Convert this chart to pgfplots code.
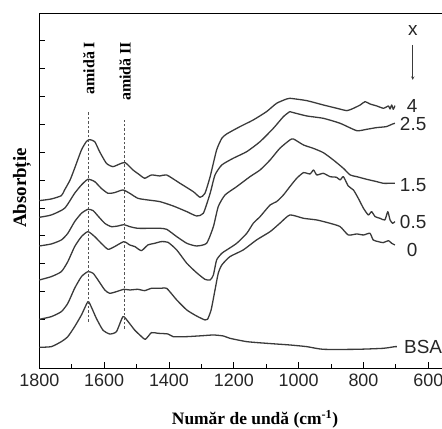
\documentclass[border=0pt]{standalone}
\usepackage{pgfplots}
\pgfplotsset{compat=1.18}
\usepackage{fontspec}
\setmainfont{Liberation Serif}
\newfontfamily\arial{Liberation Sans}
\definecolor{crv}{HTML}{3A3A3A}
\definecolor{dsh}{HTML}{555555}
\pgfplotsset{spec/.style={color=crv, solid, line width=1.3bp, line join=round, smooth, tension=0.35, mark=none}}
\begin{document}
\begin{tikzpicture}[x=1bp,y=1bp]
\begin{axis}[
  at={(39.3bp,59.7bp)}, anchor=south west,
  scale only axis, width=411.7bp, height=355bp,
  x dir=reverse, xmin=530, xmax=1800, ymin=0, ymax=1065,
  clip=false,
  axis line style={line width=0.9bp, black},
  tick style={line width=0.9bp, black},
  tick align=inside,
  xtick pos=bottom, ytick pos=both,
  xtick={600,800,1000,1200,1400,1600,1800},
  minor x tick num=1,
  major tick length=6bp, minor tick length=4bp,
  ytick={63,146.6,230.2,313.8,397.4,481,564.6,648.2,731.8,815.4,899,982.6},
  yticklabels={},
  xticklabel style={font=\arial\fontsize{18}{21}\selectfont, text=black!85, yshift=-2.2bp},
  /pgf/number format/.cd, 1000 sep={}, assume math mode=true,
  /pgfplots/.cd,
]
% x = 4
\addplot[spec] coordinates {(1800,503) (1763,508) (1732,518) (1722,535) (1705,565) (1691,600) (1670,655) (1655,680) (1645,686) (1629,680) (1614,650) (1593,615) (1573,605) (1552,613) (1535,617) (1511,595) (1490,580) (1475,570) (1454,580) (1428,577) (1407,580) (1366,555) (1325,530) (1304,513) (1289,525) (1273,575) (1253,655) (1237,690) (1222,703) (1181,725) (1140,745) (1099,770) (1068,795) (1037,808) (1027,810) (975,803) (924,790) (882,780) (851,773) (831,780) (810,790) (795,800) (780,793) (759,787) (738,780) (723,787) (718,778) (713,790) (708,777) (703,788)};
% x = 2.5
\addplot[spec] coordinates {(1800,453) (1763,460) (1722,480) (1691,525) (1670,550) (1650,567) (1629,560) (1609,540) (1588,525) (1568,527) (1542,535) (1521,525) (1496,510) (1465,505) (1428,500) (1387,487) (1345,470) (1315,457) (1294,465) (1273,525) (1258,580) (1237,610) (1202,630) (1160,650) (1119,680) (1078,720) (1047,755) (1027,770) (1020,768) (975,757) (924,750) (872,735) (821,713) (790,717) (760,722) (730,725) (710,733) (703,735)};
% x = 1.5
\addplot[spec] coordinates {(1800,367) (1763,373) (1732,385) (1712,405) (1691,440) (1670,465) (1650,477) (1634,473) (1619,457) (1598,435) (1578,425) (1557,427) (1539,431) (1521,425) (1496,420) (1454,420) (1428,420) (1407,417) (1376,395) (1345,375) (1315,367) (1284,375) (1263,425) (1248,485) (1227,520) (1191,545) (1150,575) (1119,595) (1088,625) (1058,660) (1027,685) (1016,688) (985,670) (955,660) (924,647) (893,625) (862,600) (841,580) (821,575) (790,567) (759,560) (739,555) (718,555) (703,555)};
% x = 0.5
\addplot[spec] coordinates {(1800,265) (1763,275) (1732,290) (1712,320) (1691,365) (1670,395) (1650,410) (1629,395) (1609,375) (1588,357) (1568,365) (1539,380) (1521,370) (1505,365) (1485,353) (1465,370) (1444,375) (1424,380) (1403,378) (1376,355) (1345,315) (1315,287) (1289,267) (1273,265) (1263,280) (1253,325) (1237,345) (1222,355) (1191,375) (1160,405) (1140,435) (1119,455) (1088,490) (1068,500) (1047,520) (1027,545) (1006,570) (985,587) (965,583) (954,595) (944,580) (924,585) (903,575) (883,573) (872,565) (862,575) (847,547) (831,535) (816,510) (800,480) (785,460) (775,470) (764,455) (749,450) (734,445) (725,470) (718,445) (710,435) (703,440)};
% x = 0
\addplot[spec] coordinates {(1800,147) (1763,155) (1732,170) (1712,195) (1691,240) (1670,275) (1650,290) (1634,285) (1619,265) (1598,235) (1583,225) (1562,230) (1539,237) (1521,235) (1496,237) (1475,233) (1454,240) (1424,240) (1407,240) (1376,205) (1345,175) (1315,157) (1289,145) (1281,147) (1270,175) (1258,235) (1248,285) (1237,310) (1212,335) (1171,355) (1130,385) (1088,410) (1058,435) (1027,460) (985,450) (944,445) (903,435) (872,425) (847,400) (821,403) (800,400) (780,405) (770,385) (754,380) (739,377) (723,383) (713,375) (703,370)};
% BSA
\addplot[spec] coordinates {(1800,63) (1763,65) (1732,80) (1712,95) (1691,125) (1670,160) (1650,200) (1640,185) (1624,150) (1604,115) (1583,103) (1562,110) (1542,155) (1526,140) (1506,115) (1490,100) (1473,87) (1454,107) (1434,105) (1403,103) (1387,95) (1345,95) (1294,98) (1263,100) (1232,97) (1212,90) (1160,80) (1099,75) (1027,70) (975,65) (924,57) (821,57) (739,60) (703,65) (697,65)};
% amide guide lines
\addplot[line width=0.8bp, color=dsh, dash pattern=on 2.5bp off 2bp, sharp plot, mark=none] coordinates {(1648,140) (1648,770)};
\addplot[line width=0.8bp, color=dsh, dash pattern=on 2.5bp off 2bp, sharp plot, mark=none] coordinates {(1537,118) (1537,745)};
\node[anchor=north, inner sep=0, font=\bfseries\fontsize{16}{18}\selectfont] at (axis cs:1647,980) {\rotatebox{90}{amidă I}};
\node[anchor=north, inner sep=0, font=\bfseries\fontsize{16}{18}\selectfont] at (axis cs:1535,980) {\rotatebox{90}{amidă II}};
% series labels
\begin{scope}[every node/.style={anchor=west, inner sep=0, font=\arial\fontsize{19}{22}\selectfont, text=black!85}]
\node at (axis cs:667,787) {4};
\node at (axis cs:688,733) {2.5};
\node at (axis cs:688,550) {1.5};
\node at (axis cs:688,440) {0.5};
\node at (axis cs:667,355) {0};
\node at (axis cs:675,65) {BSA};
\end{scope}
\node[font=\arial\fontsize{19}{22}\selectfont, text=black!85] at (axis cs:648,1013) {x};
\draw[-stealth, line width=0.6bp, color=crv] (axis cs:648,970) -- (axis cs:648,865);
\end{axis}
\node[anchor=base, inner sep=0, font=\bfseries\fontsize{17.5}{20}\selectfont] at (255,3.3) {Număr de undă (cm\textsuperscript{-1})};
\node[anchor=center, inner sep=0, font=\bfseries\fontsize{19}{22}\selectfont] at (22,240) {\rotatebox{90}{Absorbție}};
\pgfresetboundingbox
\useasboundingbox (0,0) rectangle (442,428);
\end{tikzpicture}
\end{document}
